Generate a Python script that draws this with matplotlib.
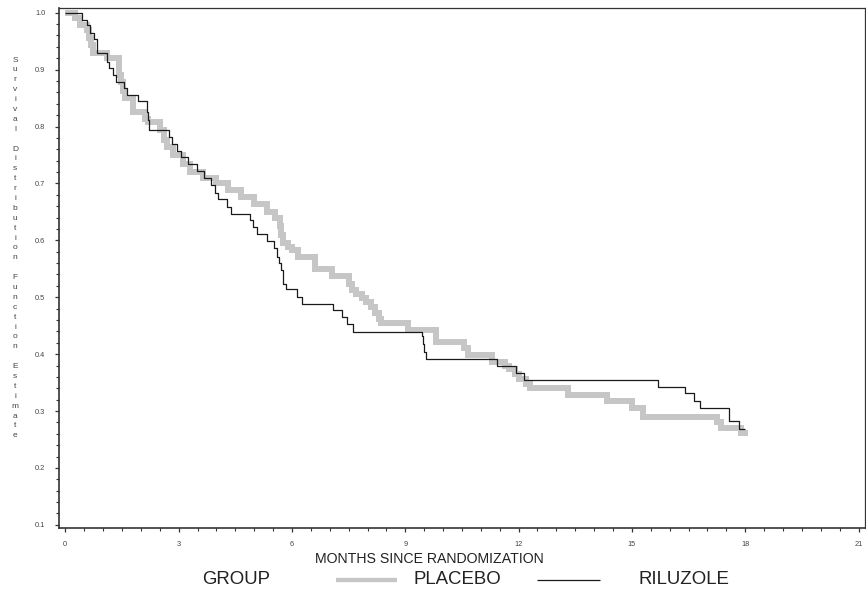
import matplotlib
matplotlib.use("Agg")
import matplotlib.pyplot as plt
from matplotlib.lines import Line2D
from matplotlib.ticker import MultipleLocator, FormatStrFormatter

plt.rcParams['font.family'] = ['Liberation Sans', 'DejaVu Sans']

# ---------------- data ----------------
placebo_t = [0, 0.26, 0.39, 0.57, 0.62, 0.67, 0.72, 1.1, 1.42, 1.47, 1.52, 1.58,
             1.8, 2.11, 2.2, 2.5, 2.6, 2.68, 2.86, 3.12, 3.3, 3.65, 4.0, 4.3, 4.65,
             5.0, 5.35, 5.55, 5.68, 5.72, 5.77, 5.9, 6.0, 6.15, 6.6, 7.05, 7.5,
             7.6, 7.7, 7.85, 7.95, 8.1, 8.2, 8.3, 8.35, 9.08, 9.8, 10.55, 10.65,
             11.3, 11.65, 11.75, 11.9, 12.0, 12.2, 12.3, 13.3, 14.35, 15.0, 15.3,
             17.25, 17.35, 17.9, 18.0]
placebo_s = [1.0, 0.99, 0.978, 0.97, 0.955, 0.943, 0.93, 0.92, 0.89, 0.879, 0.862, 0.85,
             0.826, 0.814, 0.808, 0.794, 0.776, 0.764, 0.75, 0.735, 0.72, 0.709, 0.70,
             0.689, 0.677, 0.663, 0.65, 0.64, 0.625, 0.61, 0.595, 0.588, 0.583, 0.571,
             0.55, 0.537, 0.524, 0.512, 0.506, 0.498, 0.492, 0.483, 0.472, 0.462, 0.455,
             0.442, 0.422, 0.41, 0.398, 0.387, 0.38, 0.373, 0.365, 0.357, 0.348, 0.34,
             0.328, 0.318, 0.305, 0.29, 0.28, 0.27, 0.262, 0.256]

riluzole_t = [0, 0.45, 0.566, 0.654, 0.768, 0.83, 1.096, 1.165, 1.27, 1.334, 1.554,
              1.641, 1.915, 2.154, 2.18, 2.215, 2.75, 2.82, 2.96, 3.05, 3.24, 3.48,
              3.68, 3.85, 3.96, 4.05, 4.29, 4.39, 4.89, 4.96, 5.08, 5.35, 5.52, 5.61,
              5.66, 5.70, 5.75, 5.77, 5.84, 6.14, 6.26, 7.08, 7.33, 7.46, 7.61, 9.43,
              9.46, 9.50, 9.55, 11.42, 11.93, 12.14, 15.7, 16.4, 16.65, 16.8, 17.58,
              17.83, 18.0]
riluzole_s = [1.0, 0.987, 0.978, 0.964, 0.953, 0.929, 0.914, 0.903, 0.89, 0.879, 0.867,
              0.855, 0.844, 0.826, 0.811, 0.794, 0.782, 0.77, 0.757, 0.746, 0.734, 0.722,
              0.709, 0.697, 0.684, 0.672, 0.659, 0.647, 0.636, 0.623, 0.611, 0.598, 0.586,
              0.571, 0.56, 0.548, 0.536, 0.524, 0.514, 0.501, 0.488, 0.477, 0.466, 0.453,
              0.439, 0.431, 0.418, 0.404, 0.391, 0.379, 0.366, 0.354, 0.343, 0.331,
              0.318, 0.306, 0.282, 0.268, 0.268]

group_labels = ["PLACEBO", "RILUZOLE"]
x_label = "MONTHS SINCE RANDOMIZATION"
y_label = "Survival Distribution Function Estimate"
legend_title = "GROUP"

# ---------------- figure ----------------
W, H = 866, 591
fig = plt.figure(figsize=(W / 100, H / 100), dpi=100)

def fx(px):
    return px / W

def fy(py):
    return 1 - py / H

ax = fig.add_axes([fx(58.7), fy(528.3), fx(865) - fx(58.7), fy(8) - fy(528.3)])

GREY = '#c6c6c6'
DARK = '#1a1a1a'

ax.plot(placebo_t, placebo_s, drawstyle='steps-post', color=GREY, lw=4.3,
        solid_capstyle='butt', solid_joinstyle='miter', zorder=2)
ax.plot(riluzole_t, riluzole_s, drawstyle='steps-post', color=DARK, lw=0.9,
        solid_capstyle='butt', zorder=3)

ax.set_xlim(-0.175, 21.17)
ax.set_ylim(0.0939, 1.0083)

ax.xaxis.set_major_locator(MultipleLocator(3))
ax.xaxis.set_minor_locator(MultipleLocator(0.5))
ax.yaxis.set_major_locator(MultipleLocator(0.1))
ax.yaxis.set_minor_locator(MultipleLocator(0.02))
ax.yaxis.set_major_formatter(FormatStrFormatter('%.1f'))
ax.xaxis.set_major_formatter(FormatStrFormatter('%d'))

ax.tick_params(axis='both', which='major', direction='out', length=3.2, width=0.9,
               color='#333333', labelsize=5.3, labelcolor='#444444')
ax.tick_params(axis='both', which='minor', direction='out', length=2.0, width=0.8,
               color='#333333')
ax.tick_params(axis='y', which='major', pad=6.5)
ax.tick_params(axis='x', which='major', pad=6)

for side, sp in ax.spines.items():
    sp.set_color('#333333')
    sp.set_linewidth(1.2 if side in ('left', 'bottom') else 0.9)

# stacked y-axis label, one character per line
chars = list(y_label)
y0, step = 60.0, 9.89
for i, ch in enumerate(chars):
    if ch == ' ':
        continue
    fig.text(fx(15), fy(y0 + i * step), ch, ha='center', va='center',
             fontsize=6, color='#444444')

# x label
fig.text(fx(429.5), fy(563.3), x_label, ha='center', va='baseline',
         fontsize=10.2, color='#222222')

# legend (manual, below the axis)
fig.text(fx(201.7), fy(584.3), legend_title, ha='left', va='baseline',
         fontsize=13.4, color='#222222')
fig.add_artist(Line2D([fx(335.7), fx(397)], [fy(579.5), fy(579.5)], color=GREY, lw=3.1,
                      solid_capstyle='butt', transform=fig.transFigure))
fig.text(fx(413.3), fy(584.3), group_labels[0], ha='left', va='baseline',
         fontsize=13.4, color='#222222')
fig.add_artist(Line2D([fx(537), fx(600)], [fy(579.5), fy(579.5)], color=DARK, lw=0.9,
                      solid_capstyle='butt', transform=fig.transFigure))
fig.text(fx(638), fy(584.3), group_labels[1], ha='left', va='baseline',
         fontsize=13.4, color='#222222')

fig.savefig('out.png', dpi=100)
